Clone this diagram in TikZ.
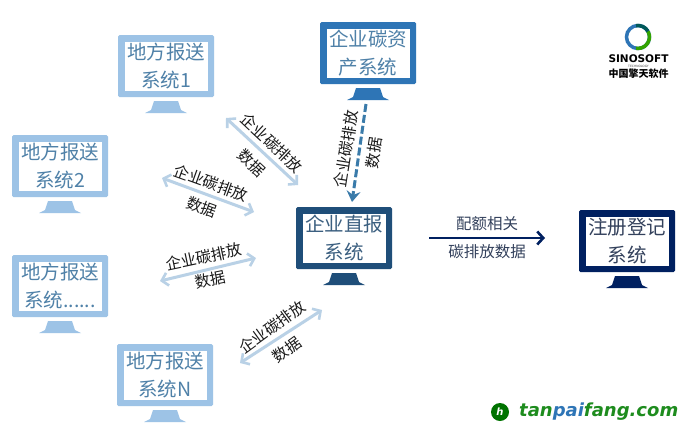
\documentclass[tikz,border=0pt]{standalone}
\usepackage{fontspec}
\setmainfont{Noto Sans CJK SC}
\newfontfamily\logofont{DejaVu Sans}
\usetikzlibrary{arrows.meta}
\definecolor{cLocal}{HTML}{9DC3E6}
\definecolor{cAsset}{HTML}{2E75B6}
\definecolor{cDirect}{HTML}{1F4E79}
\definecolor{cReg}{HTML}{002060}
\definecolor{tLocal}{HTML}{4F81A8}
\definecolor{tDirect}{HTML}{3B5F80}
\definecolor{tReg}{HTML}{33415C}
\definecolor{cLight}{HTML}{B9D1E6}
\definecolor{cDash}{HTML}{3A7BAA}
\definecolor{cGreen}{HTML}{1E8C1E}
\tikzset{
  screen/.style={fill=#1,rounded corners=1.5pt,minimum width=96pt,minimum height=62pt,inner sep=0pt,outer sep=0pt},
  scrtext/.style={fill=white,minimum width=83pt,minimum height=49pt,font=\fontsize{19.5pt}{28pt}\selectfont,align=center,inner sep=0pt,text=#1},
  lab/.style={font=\fontsize{15.5pt}{18pt}\selectfont,inner sep=0pt,text=black!90},
  dbl/.style={cLight,line width=3pt,{Straight Barb[length=6pt,width=13pt,line width=2.6pt]}-{Straight Barb[length=6pt,width=13pt,line width=2.6pt]}},
}
\newcommand{\monitor}[7]{% name, cx, cy, border, text colour, line1, line2
  \node[screen=#4] (#1) at (#2,#3) {};
  \node[scrtext=#5] (#1t) at (#2,#3) {#6\\#7};
  \fill[#4] (#2-12,#3+35) -- (#2+12,#3+35) -- (#2+15,#3+44) -- (#2+21,#3+47) -- (#2-21,#3+47) -- (#2-15,#3+44) -- cycle;
}
\begin{document}
\begin{tikzpicture}[x=1pt,y=-1pt]
\useasboundingbox (0,0) rectangle (688,432);
\fill[white] (0,0) rectangle (688,432);

\monitor{a}{166}{66}{cLocal}{tLocal}{地方报送}{系统1}
\monitor{b}{60}{166}{cLocal}{tLocal}{地方报送}{系统2}
\monitor{c}{60}{286}{cLocal}{tLocal}{地方报送}{系统......}
\monitor{d}{165}{375}{cLocal}{tLocal}{地方报送}{系统N}
\monitor{e}{368}{53}{cAsset}{tLocal}{企业碳资}{产系统}
\monitor{f}{344}{238}{cDirect}{tDirect}{企业直报}{系统}
\monitor{g}{627}{241}{cReg}{tReg}{注册登记}{系统}

\coordinate (a1) at (226,118); \coordinate (a2) at (298,185);
\coordinate (b1) at (162,178); \coordinate (b2) at (254,212);
\coordinate (c1) at (160,281); \coordinate (c2) at (256,258);
\coordinate (d1) at (240,363); \coordinate (d2) at (322,310);
\coordinate (e1) at (366,104); \coordinate (e2) at (352,202);
\coordinate (f1) at (429,238); \coordinate (f2) at (545,238);

\draw[dbl] (a1) -- (a2);
\draw[dbl] (b1) -- (b2);
\draw[dbl] (c1) -- (c2);
\draw[dbl] (d1) -- (d2);
\draw[cDash,line width=3pt,dash pattern=on 8pt off 3pt,-{Stealth[length=11pt,width=14pt,inset=4pt]}] (e1) -- (e2);
\draw[cReg,line width=2.6pt,-{Straight Barb[length=6pt,width=13pt,line width=2.6pt]}] (f1) -- (f2);

\node[lab,rotate=-43] (la1) at (272,143) {企业碳排放};
\node[lab,rotate=-43] (la2) at (252,163) {数据};
\node[lab,rotate=-20] (lb1) at (211,183) {企业碳排放};
\node[lab,rotate=-20] (lb2) at (202,207) {数据};
\node[lab,rotate=12] (lc1) at (204,257) {企业碳排放};
\node[lab,rotate=12] (lc2) at (210,280) {数据};
\node[lab,rotate=36] (ld1) at (272,327) {企业碳排放};
\node[lab,rotate=36] (ld2) at (287,350) {数据};
\node[lab,rotate=81] (le1) at (346,149) {企业碳排放};
\node[lab,rotate=81] (le2) at (374,153) {数据};
\node[lab,text=tReg] (lf1) at (487,224) {配额相关};
\node[lab,text=tReg] (lf2) at (487,252) {碳排放数据};

% Sinosoft logo
\coordinate (ring) at (638,37);
\draw[line width=3.5pt,draw=cAsset] (ring) circle (11.5);
\draw[line width=3.5pt,draw=green!55!black!80!yellow] (ring) ++(100:11.5) arc[start angle=100,end angle=-30,radius=11.5];
\draw[line width=3.5pt,draw=teal!70!black] (ring) ++(-30:11.5) arc[start angle=-30,end angle=-100,radius=11.5];
\node[inner sep=0pt,font=\logofont\bfseries\fontsize{10.5pt}{11pt}\selectfont] (s1) at (638.5,59) {SINOSOFT};
\node[inner sep=0pt,font=\logofont\fontsize{3pt}{3pt}\selectfont,text=black!70] (s2) at (638.5,66) {TECHNOLOGY};
\node[inner sep=0pt,font=\bfseries\fontsize{10pt}{10pt}\selectfont] (s3) at (638.5,73.5) {中国擎天软件};

% tanpaifang logo
\fill[green!45!black] (500,412) circle (9);
\node[inner sep=0pt,font=\logofont\bfseries\itshape\fontsize{10pt}{10pt}\selectfont,text=white] (hlogo) at (500,412) {h};
\node[inner sep=0pt,anchor=west,font=\logofont\bfseries\itshape\fontsize{18pt}{18pt}\selectfont,text=cGreen] (tp) at (519,412) {tan\textcolor{cAsset}{pai}fang.com};
\end{tikzpicture}
\end{document}
